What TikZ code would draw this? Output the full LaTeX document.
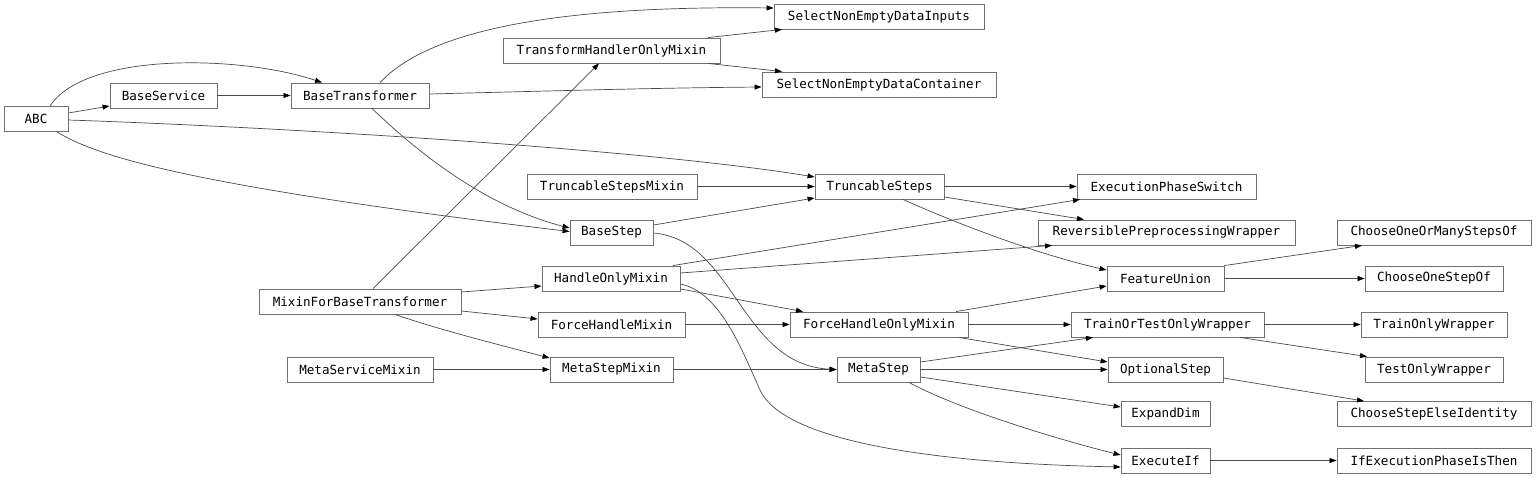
\documentclass[tikz,border=0pt]{standalone}
\usepackage{fontspec}
\newfontfamily\gvfont{DejaVu Sans Mono}
\usetikzlibrary{arrows.meta,calc}
\definecolor{edgecol}{HTML}{4A4A4A}
\definecolor{boxcol}{HTML}{707070}
\tikzset{
  cls/.style={draw=boxcol, line width=0.9pt, rectangle, minimum height=25pt, inner xsep=2pt, inner ysep=0pt,
    font=\gvfont\fontsize{12.6}{14}\selectfont, text=black},
  inh/.style={draw=edgecol, line width=0.7pt, -{Triangle[length=7pt,width=5pt,color=black]}},
}
\begin{document}
\begin{tikzpicture}[x=1pt,y=-1pt]
\useasboundingbox (0,0) rectangle (1536,478);
% column 1
\node[cls, minimum width=64pt] (ABC) at (36,119) {ABC};
% column 2
\node[cls, minimum width=107pt] (BaseService) at (163.5,95.5) {BaseService};
% column 3
\node[cls, minimum width=138pt] (BaseTransformer) at (360,95.5) {BaseTransformer};
\node[cls, minimum width=202pt] (MixinForBT) at (360,301.5) {MixinForBaseTransformer};
\node[cls, minimum width=146pt] (MetaServiceMixin) at (360,369.5) {MetaServiceMixin};
% column 4
\node[cls, minimum width=217pt] (THOM) at (611.5,50.5) {TransformHandlerOnlyMixin};
\node[cls, minimum width=170pt] (TSMixin) at (612,186.5) {TruncableStepsMixin};
\node[cls, minimum width=83pt] (BaseStep) at (611.5,232.5) {BaseStep};
\node[cls, minimum width=138pt] (HOM) at (611,278.5) {HandleOnlyMixin};
\node[cls, minimum width=147pt] (FHM) at (611.5,324.5) {ForceHandleMixin};
\node[cls, minimum width=123pt] (MSM) at (611.5,369.5) {MetaStepMixin};
% column 5
\node[cls, minimum width=210pt] (SNEDI) at (879,16.5) {SelectNonEmptyDataInputs};
\node[cls, minimum width=234pt] (SNEDC) at (879,84.5) {SelectNonEmptyDataContainer};
\node[cls, minimum width=129pt] (TS) at (879.5,186.5) {TruncableSteps};
\node[cls, minimum width=178pt] (FHOM) at (879,324.5) {ForceHandleOnlyMixin};
\node[cls, minimum width=83pt] (MetaStep) at (878.5,369.5) {MetaStep};
% column 6
\node[cls, minimum width=179pt] (EPS) at (1166.5,186.5) {ExecutionPhaseSwitch};
\node[cls, minimum width=257pt] (RPW) at (1166.5,232.5) {ReversiblePreprocessingWrapper};
\node[cls, minimum width=117pt] (FU) at (1165.5,278.5) {FeatureUnion};
\node[cls, minimum width=193pt] (TOT) at (1167.5,324.5) {TrainOrTestOnlyWrapper};
\node[cls, minimum width=115pt] (OS) at (1165.5,369.5) {OptionalStep};
\node[cls, minimum width=89pt] (ED) at (1165.5,414) {ExpandDim};
\node[cls, minimum width=89pt] (EI) at (1165.5,460.5) {ExecuteIf};
% column 7
\node[cls, minimum width=194pt] (COOM) at (1434,232.5) {ChooseOneOrManyStepsOf};
\node[cls, minimum width=138pt] (COSO) at (1434,278.5) {ChooseOneStepOf};
\node[cls, minimum width=146pt] (TOW) at (1434,324.5) {TrainOnlyWrapper};
\node[cls, minimum width=138pt] (TestOW) at (1434,369.5) {TestOnlyWrapper};
\node[cls, minimum width=194pt] (CSEI) at (1434,414) {ChooseStepElseIdentity};
\node[cls, minimum width=194pt] (IEPIT) at (1434,460.5) {IfExecutionPhaseIsThen};

% edges
\draw[inh] ($(ABC.east)+(0,-6)$) -- ($(BaseService.west)+(0,10.5)$);
\draw[inh] ($(ABC.north)+(14,0)$) .. controls (85,52) and (240,55) .. ($(BaseTransformer.north)+(-38,0)$);
\draw[inh] ($(ABC.east)+(0,1)$) .. controls (300,128) and (650,150) .. ($(TS.west)+(0,-9.5)$);
\draw[inh] ($(ABC.south)+(21,0)$) .. controls (95,155) and (180,185) .. ($(BaseStep.west)+(0,-1)$);
\draw[inh] (BaseService.east) -- (BaseTransformer.west);
\draw[inh] ($(BaseTransformer.north)+(20,0)$) .. controls (420,40) and (520,5) .. ($(SNEDI.west)+(0,-8.5)$);
\draw[inh] ($(BaseTransformer.east)+(0,-1.5)$) .. controls (550,91) and (650,88) .. ($(SNEDC.west)+(0,2.5)$);
\draw[inh] ($(BaseTransformer.south)+(12,0)$) .. controls (410,145) and (480,205) .. ($(BaseStep.west)+(0,-4.5)$);
\draw[inh] ($(THOM.north)+(96.5,0)$) -- ($(SNEDI.south)+(-97,0)$);
\draw[inh] ($(THOM.south)+(96.5,0)$) -- ($(SNEDC.north)+(-97,0)$);
\draw[inh] ($(MixinForBT.north)+(13,0)$) -- ($(THOM.south)+(-12.5,0)$);
\draw[inh] ($(MixinForBT.east)+(0,-9.5)$) -- ($(HOM.west)+(0,7.5)$);
\draw[inh] ($(MixinForBT.east)+(0,9.5)$) -- ($(FHM.west)+(0,-5.5)$);
\draw[inh] ($(MixinForBT.south)+(35,0)$) .. controls (440,330) and (500,345) .. ($(MSM.west)+(0,-11.5)$);
\draw[inh] (TSMixin.east) -- (TS.west);
\draw[inh] ($(BaseStep.east)+(0,-7.5)$) -- ($(TS.west)+(0,11.5)$);
\draw[inh] ($(BaseStep.east)+(0,0.5)$) .. controls (735,240) and (740,365) .. (MetaStep.west);
\draw[inh] ($(HOM.north)+(62,0)$) -- ($(EPS.south)+(-86.5,0)$);
\draw[inh] ($(HOM.east)+(0,-5.5)$) -- ($(RPW.south)+(-114.5,0)$);
\draw[inh] ($(HOM.east)+(0,10.5)$) -- ($(FHOM.north)+(-76,0)$);
\draw[inh] ($(HOM.east)+(0,5.5)$) .. controls (720,292) and (742,350) .. (760,390)
   .. controls (778,430) and (880,462) .. ($(EI.west)+(0,6.5)$);
\draw[inh] (FHM.east) -- (FHOM.west);
\draw[inh] (MetaServiceMixin.east) -- (MSM.west);
\draw[inh] (MSM.east) -- (MetaStep.west);
\draw[inh] (TS.east) -- (EPS.west);
\draw[inh] ($(TS.east)+(0,10.5)$) -- ($(RPW.north)+(-82.5,0)$);
\draw[inh] ($(TS.south)+(23.5,0)$) .. controls (960,225) and (1040,255) .. ($(FU.west)+(0,-8.5)$);
\draw[inh] ($(FHOM.north)+(77,0)$) -- ($(FU.west)+(0,7.5)$);
\draw[inh] (FHOM.east) -- (TOT.west);
\draw[inh] ($(FHOM.south)+(80,0)$) -- ($(OS.west)+(0,-7.5)$);
\draw[inh] ($(MetaStep.east)+(0,-7.5)$) -- ($(TOT.south)+(-74.5,0)$);
\draw[inh] (MetaStep.east) -- (OS.west);
\draw[inh] ($(MetaStep.east)+(0,7.5)$) -- ($(ED.west)+(0,-7)$);
\draw[inh] ($(MetaStep.south)+(30.5,0)$) .. controls (960,410) and (1060,440) .. ($(EI.west)+(0,-5.5)$);
\draw[inh] (FU.north east) -- ($(COOM.south)+(-72,0)$);
\draw[inh] (FU.east) -- (COSO.west);
\draw[inh] (TOT.east) -- (TOW.west);
\draw[inh] ($(TOT.south)+(72.5,0)$) -- ($(TestOW.north)+(-67,0)$);
\draw[inh] ($(OS.east)+(0,8.5)$) -- ($(CSEI.north)+(-70,0)$);
\draw[inh] (EI.east) -- (IEPIT.west);
\end{tikzpicture}
\end{document}
